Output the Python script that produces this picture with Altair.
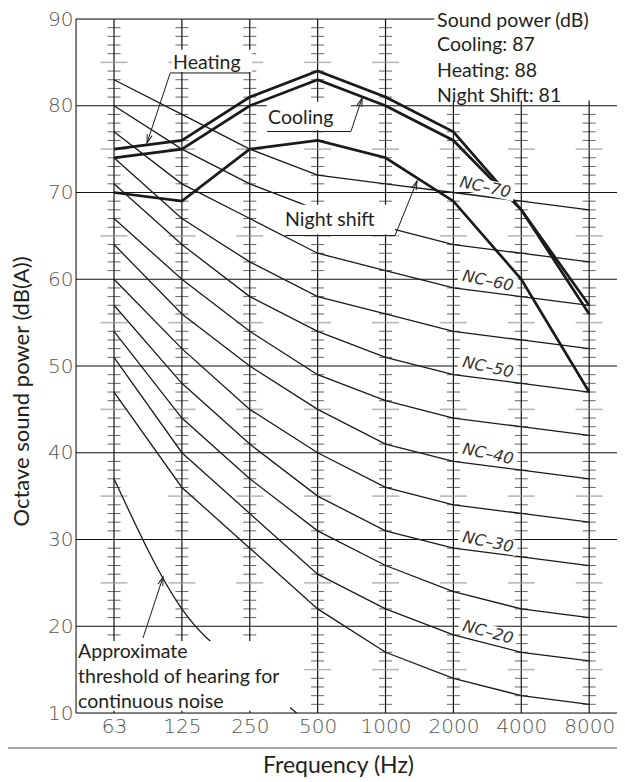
import json
import pandas as pd
import altair as alt

# ---------------- data ----------------
freqs = ["63", "125", "250", "500", "1000", "2000", "4000", "8000"]
nc_names = ["NC-15", "NC-20", "NC-25", "NC-30", "NC-35", "NC-40",
            "NC-45", "NC-50", "NC-55", "NC-60", "NC-65", "NC-70"]
nc_15 = [47, 36, 29, 22, 17, 14, 12, 11]
nc_20 = [51, 40, 33, 26, 22, 19, 17, 16]
nc_25 = [54, 44, 37, 31, 27, 24, 22, 21]
nc_30 = [57, 48, 41, 35, 31, 29, 28, 27]
nc_35 = [60, 52, 45, 40, 36, 34, 33, 32]
nc_40 = [64, 56, 50, 45, 41, 39, 38, 37]
nc_45 = [67, 60, 54, 49, 46, 44, 43, 42]
nc_50 = [71, 64, 58, 54, 51, 49, 48, 47]
nc_55 = [74, 67, 62, 58, 56, 54, 53, 52]
nc_60 = [77, 71, 67, 63, 61, 59, 58, 57]
nc_65 = [80, 75, 71, 68, 66, 64, 63, 62]
nc_70 = [83, 79, 75, 72, 71, 70, 69, 68]
nc_all = [nc_15, nc_20, nc_25, nc_30, nc_35, nc_40,
          nc_45, nc_50, nc_55, nc_60, nc_65, nc_70]

heating = [75, 76, 81, 84, 81, 77, 68, 57]
cooling = [74, 75, 80, 83, 80, 76, 68, 56]
night_shift = [70, 69, 75, 76, 74, 69, 60, 47]

threshold_pos = [0, 1, 2, 2.69]
threshold_db = [37, 22, 14.5, 10]

y_ticks = [10, 20, 30, 40, 50, 60, 70, 80, 90]

legend_lines = ["Sound power (dB)", "Cooling: 87", "Heating: 88", "Night Shift: 81"]
legend_y = [89.8, 86.95, 83.97, 81.1]

label_text = ["Heating", "Cooling", "Night shift"]
label_x = [0.87, 2.27, 2.52]
label_y = [84.93, 78.59, 66.83]

note_lines = ["Approximate", "threshold of hearing for", "continuous noise"]
note_y = [17.03, 14.15, 11.27]

nc_label_text = ["NC\u201370", "NC\u201360", "NC\u201350", "NC\u201340", "NC\u201330", "NC\u201320"]
nc_label_x = [5.47, 5.51, 5.51, 5.51, 5.51, 5.51]
nc_label_y = [70.6, 59.8, 49.85, 39.85, 29.7, 19.3]
nc_label_angle = [12, 12, 12, 12, 12, 15]

# annotation boxes (x from, x to, dB from, dB to)
box_x0 = [0.855, 2.25, 2.49, 4.72, -0.53]
box_x1 = [2.034, 3.49, 4.14, 7.41, 2.594]
box_y0 = [83.9, 77.2, 65.2, 80.6, 10.25]
box_y1 = [86.45, 80.45, 68.6, 91.0, 18.3]

# leader lines (underlines and arrow shafts)
seg_x0 = [0.825, 0.825, 2.255, 3.49, 2.52, 4.14, 0.427]
seg_y0 = [83.78, 83.70, 77.03, 77.03, 65.04, 65.04, 18.65]
seg_x1 = [2.004, 0.486, 3.49, 3.655, 4.14, 4.465, 0.722]
seg_y1 = [83.78, 75.71, 77.03, 80.89, 65.04, 71.33, 25.68]
head_x = [0.486, 3.655, 4.465, 0.722]
head_y = [75.71, 80.89, 71.33, 25.68]
head_angle = [198, 18, 22, 18]

# ---------------- layout constants ----------------
X_MIN, X_MAX = -0.56, 7.41
W, H = 541, 694
TXT = "#231f20"
SANS = "Lato"

XS = alt.Scale(domain=[X_MIN, X_MAX], nice=False, zero=False)
YS = alt.Scale(domain=[10, 90], nice=False, zero=False)

label_expr = json.dumps(freqs) + "[datum.value]"

x_axis = alt.Axis(values=list(range(len(freqs))), labelExpr=label_expr,
                  domain=False, ticks=False, grid=False,
                  labelFont="DejaVu Sans", labelFontSize=20, labelFontWeight=200,
                  labelColor="#555555",
                  labelPadding=3, labelBaseline="top", labelFlush=False,
                  title="Frequency (Hz)", titleFont=SANS, titleFontSize=23,
                  titleFontWeight="normal", titleColor=TXT,
                  titleX=262, titleY=59, titleAlign="center", titleBaseline="alphabetic")
y_axis = alt.Axis(values=y_ticks, domain=False, ticks=False, grid=False,
                  labelFont="DejaVu Sans", labelFontSize=20, labelFontWeight=200,
                  labelColor="#555555",
                  labelPadding=3, labelBaseline="middle", labelFlush=False,
                  title="Octave sound power (dB(A))", titleFont=SANS, titleFontSize=22,
                  titleFontWeight="normal", titleColor=TXT, titleAngle=270,
                  titleX=-55, titleY=372, titleAlign="center", titleBaseline="middle")


def X(f):
    return alt.X(f"{f}:Q", scale=XS, axis=x_axis)


def Y(f):
    return alt.Y(f"{f}:Q", scale=YS, axis=y_axis)


# ---------------- tables ----------------
grid_df = pd.DataFrame({"db": y_ticks, "x0": X_MIN, "x1": X_MAX})
border_df = pd.DataFrame({"x": [X_MIN], "y0": [10], "y1": [90]})
col_df = pd.DataFrame({"idx": list(range(len(freqs))), "lo": 10, "hi": 90})
small_rows, long_rows = [], []
for i in range(len(freqs)):
    for d in range(11, 90):
        if d % 10 == 5:
            long_rows.append({"idx": i, "db": d})
        elif d % 5 != 0:
            small_rows.append({"idx": i, "db": d})
small_df = pd.DataFrame(small_rows)
long_df = pd.DataFrame(long_rows)

nc_rows = []
for name, vals in zip(nc_names, nc_all):
    for i, v in enumerate(vals):
        nc_rows.append({"curve": name, "idx": i, "db": v})
nc_df = pd.DataFrame(nc_rows)

unit_rows = []
for name, vals in [("Heating", heating), ("Cooling", cooling), ("Night shift", night_shift)]:
    for i, v in enumerate(vals):
        unit_rows.append({"series": name, "idx": i, "db": v})
unit_df = pd.DataFrame(unit_rows)

thr_df = pd.DataFrame({"idx": threshold_pos, "db": threshold_db})
box_df = pd.DataFrame({"x0": box_x0, "x1": box_x1, "y0": box_y0, "y1": box_y1})
seg_df = pd.DataFrame({"x0": seg_x0, "y0": seg_y0, "x1": seg_x1, "y1": seg_y1})
head_df = pd.DataFrame({"x": head_x, "y": head_y, "a": head_angle})
legend_df = pd.DataFrame({"t": legend_lines, "x": 4.76, "y": legend_y})
label_df = pd.DataFrame({"t": label_text, "x": label_x, "y": label_y})
note_df = pd.DataFrame({"t": note_lines, "x": -0.53, "y": note_y})
ncl_df = pd.DataFrame({"t": nc_label_text, "x": nc_label_x, "y": nc_label_y, "a": nc_label_angle})
one_df = pd.DataFrame({"a": [0]})

# ---------------- layers ----------------
hgrid = alt.Chart(grid_df).mark_rule(color="#111", strokeWidth=1).encode(
    x=X("x0"), x2="x1", y=Y("db"))
border = alt.Chart(border_df).mark_rule(color="#111", strokeWidth=1).encode(
    x=X("x"), y=Y("y0"), y2="y1")
cols = alt.Chart(col_df).mark_rule(color="#111", strokeWidth=1.2).encode(
    x=X("idx"), y=Y("lo"), y2="hi")
small_ticks = alt.Chart(small_df).mark_tick(orient="horizontal", size=13, thickness=1,
                                            color="#222").encode(x=X("idx"), y=Y("db"))
long_ticks = alt.Chart(long_df).mark_tick(orient="horizontal", size=27, thickness=1.6,
                                          color="#9a9a9a").encode(x=X("idx"), y=Y("db"))
nc_lines = alt.Chart(nc_df).mark_line(color="#1a1a1a", strokeWidth=1.3).encode(
    x=X("idx"), y=Y("db"), detail="curve:N")
unit_lines = alt.Chart(unit_df).mark_line(color="#1a1a1a", strokeWidth=2.7).encode(
    x=X("idx"), y=Y("db"), detail="series:N")
thr_line = alt.Chart(thr_df).mark_line(color="#1a1a1a", strokeWidth=1.3,
                                       interpolate="monotone").encode(x=X("idx"), y=Y("db"))
boxes = alt.Chart(box_df).mark_rect(color="white").encode(
    x=X("x0"), x2="x1", y=Y("y0"), y2="y1")
segs = alt.Chart(seg_df).mark_rule(color="#1a1a1a", strokeWidth=1).encode(
    x=X("x0"), y=Y("y0"), x2="x1", y2="y1")
heads = alt.Chart(head_df).mark_point(shape="M -0.42 1.4 L 0 0 L 0.42 1.4", size=150,
                                      filled=False, color="#1a1a1a", strokeWidth=1,
                                      opacity=1).encode(
    x=X("x"), y=Y("y"), angle=alt.Angle("a:Q", scale=None))
legend_txt = alt.Chart(legend_df).mark_text(align="left", baseline="middle", font=SANS,
                                            fontSize=19.5, color=TXT).encode(
    x=X("x"), y=Y("y"), text="t:N")
label_txt = alt.Chart(label_df).mark_text(align="left", baseline="middle", font=SANS,
                                          fontSize=19.5, color=TXT).encode(
    x=X("x"), y=Y("y"), text="t:N")
note_txt = alt.Chart(note_df).mark_text(align="left", baseline="middle", font=SANS,
                                        fontSize=19.5, color=TXT).encode(
    x=X("x"), y=Y("y"), text="t:N")
# white rotated plate behind each NC label
ncl_plate = alt.Chart(ncl_df).mark_point(
    shape="M -1 -0.26 L 1 -0.26 L 1 0.26 L -1 0.26 Z", size=3600,
    filled=True, color="white", opacity=1, strokeWidth=0).encode(
    x=X("x"), y=Y("y"), angle=alt.Angle("a:Q", scale=None))
ncl_txt = alt.Chart(ncl_df).mark_text(align="center", baseline="middle", font="DejaVu Sans",
                                      fontStyle="italic", fontSize=16, fontWeight=200,
                                      color="#333333").encode(
    x=X("x"), y=Y("y"), text="t:N", angle=alt.Angle("a:Q", scale=None))
sep = alt.Chart(one_df).mark_rule(color="#8a8a8a", strokeWidth=1.3).encode(
    x=alt.value(-68), x2=alt.value(W + 10), y=alt.value(729))

chart = alt.layer(
    hgrid, border, cols, small_ticks, long_ticks, nc_lines, unit_lines, thr_line,
    boxes, segs, heads, ncl_plate, ncl_txt, legend_txt, label_txt, note_txt, sep
).properties(
    width=W, height=H,
    autosize=alt.AutoSizeParams(type="none"),
    padding={"left": 68, "top": 11, "right": 0, "bottom": 69},
).configure_view(stroke=None).configure(background="white")

chart.save("out.html", embed_options={"renderer": "svg", "actions": False})
